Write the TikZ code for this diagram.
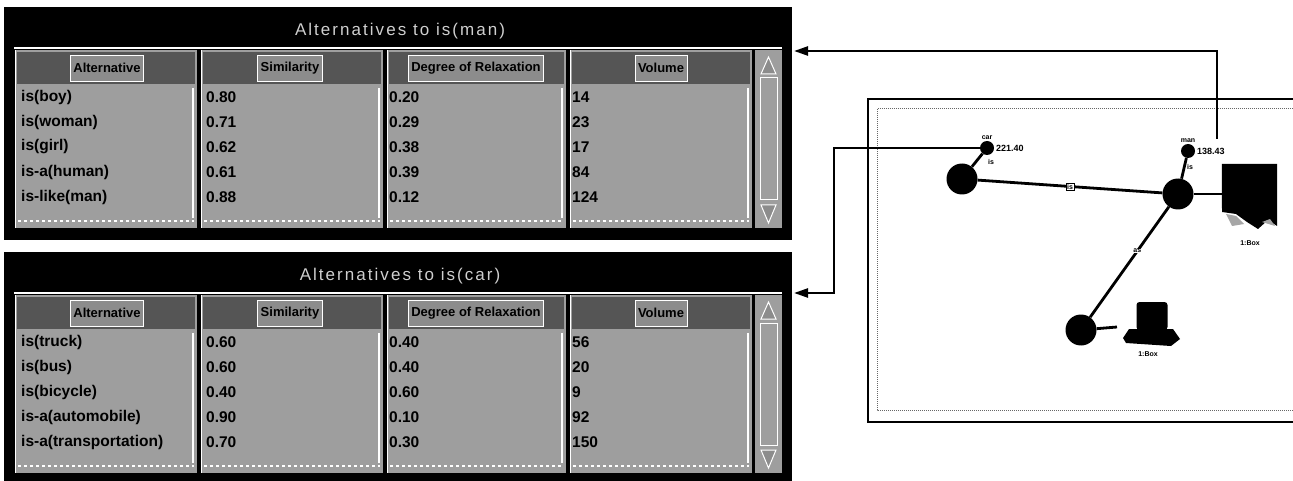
\documentclass[tikz,border=0pt]{standalone}
\usepackage{fontspec}
\setmainfont{Liberation Sans}
\newfontfamily\titlefont[LetterSpace=12]{Liberation Sans}
\usetikzlibrary{arrows.meta,calc}
\definecolor{cellgray}{HTML}{9E9E9E}
\definecolor{headgray}{HTML}{555555}
\definecolor{tabgray}{HTML}{8C8C8C}
\definecolor{titlegray}{HTML}{CFCFCF}
\tikzset{
  winbox/.style={fill=black, draw=none, inner sep=0pt, outer sep=0pt, minimum width=788, minimum height=233},
  titletxt/.style={text=titlegray, font=\titlefont\fontsize{17}{20}\selectfont, inner sep=0pt},
  tabbox/.style={fill=tabgray, draw=white, line width=0.8pt, font=\bfseries\fontsize{13}{15}\selectfont, text=black, inner xsep=3pt, inner ysep=3pt, minimum height=26},
  celltxt/.style={anchor=west, font=\bfseries\fontsize{15.5}{17}\selectfont, text=black, inner sep=0pt},
  conn/.style={line width=2.4pt, -{Triangle[length=14pt,width=9pt]}},
  edge/.style={line width=2.8pt},
  bigdot/.style={circle, fill=black, minimum size=31, inner sep=0pt},
  smalldot/.style={circle, fill=black, minimum size=14, inner sep=0pt},
  tinytxt/.style={font=\bfseries\fontsize{7}{8}\selectfont, inner sep=1pt},
  valtxt/.style={font=\bfseries\fontsize{9}{10}\selectfont, inner sep=1pt, anchor=west},
}
\newcommand\altwin[4]{%
  \begin{scope}[shift={(0,#1)}]
    \node[winbox] (#2win) at (398,123.5) {};
    \node[titletxt] (#2title) at (400,31) {#3};
    \draw[white, line width=1.5pt] (14,48) -- (782,48);
    \foreach \xl/\xr/\lab/\tx [count=\k] in {15/197/Alternative/107, 201/383/Similarity/290, 387/566/Degree of Relaxation/476, 570/752/Volume/661} {
      \fill[cellgray] (\xl,50) rectangle (\xr,228);
      \fill[headgray] (\xl+2,52) rectangle (\xr-2,84);
      \node[tabbox] (#2h\k) at (\tx,68) {\lab};
      \draw[white, line width=1.2pt] (\xr-4,88) -- (\xr-4,218);
      \draw[white, line width=2pt, dash pattern=on 3pt off 3pt] (\xl+3,221) -- (\xr-3,221);
      \draw[white, line width=1pt] (\xl,50) -- (\xl,228);
    }
    \foreach \a/\b/\c/\d [count=\i] in {#4} {
      \pgfmathsetmacro\yy{72+25*\i}
      \node[celltxt] (#2a\i) at (21,\yy) {\a};
      \node[celltxt] (#2b\i) at (206,\yy) {\b};
      \node[celltxt] (#2c\i) at (389,\yy) {\c};
      \node[celltxt] (#2d\i) at (572,\yy) {\d};
    }
    % scrollbar
    \fill[cellgray] (755,50) rectangle (782,228);
    \draw[white, line width=1pt] (760,78) rectangle (777,200);
    \draw[white, line width=1pt, fill=black!45] (768.5,57) -- (776,74) -- (761,74) -- cycle;
    \draw[white, line width=1pt, fill=black!45] (761,205) -- (776,205) -- (768.5,223) -- cycle;
  \end{scope}
}
\begin{document}
\begin{tikzpicture}[x=1pt,y=-1pt]
\useasboundingbox (0,0) rectangle (1293,481);
\fill[white] (0,0) rectangle (1293,481);

\altwin{0}{top}{Alternatives to is(man)}{is(boy)/0.80/0.20/14, is(woman)/0.71/0.29/23, is(girl)/0.62/0.38/17, is-a(human)/0.61/0.39/84, is-like(man)/0.88/0.12/124}
\altwin{245}{bot}{Alternatives to is(car)}{is(truck)/0.60/0.40/56, is(bus)/0.60/0.40/20, is(bicycle)/0.40/0.60/9, is-a(automobile)/0.90/0.10/92, is-a(transportation)/0.70/0.30/150}

% right panel
\draw[line width=2pt] (868,99) rectangle (1300,422);
\draw[black!60, densely dotted, line width=1pt] (877,109) rectangle (1300,410);

\node[smalldot] (carsmall) at (987,148) {};
\node[tinytxt, anchor=south] (carname) at (carsmall.north) {car};
\node[valtxt] (carval) at (995,148) {221.40};
\node[bigdot] (carbig) at (962,179) {};
\draw[edge] (carsmall) -- (carbig);
\node[tinytxt] (carrel) at (991,162) {is};

\node[smalldot] (mansmall) at (1188,151) {};
\node[tinytxt, anchor=south] (manname) at (mansmall.north) {man};
\node[valtxt] (manval) at (1196,151) {138.43};
\node[bigdot] (manbig) at (1178,194) {};
\draw[edge] (mansmall) -- (manbig);
\node[tinytxt] (manrel) at (1190,167) {is};

\draw[edge] (carbig) -- node[tinytxt, fill=white, draw=black, line width=0.6pt, inner sep=1pt] (e1) {is} (manbig);

\node[bigdot] (low) at (1081,330) {};
\draw[edge] (manbig) -- node[tinytxt, pos=0.4, fill=white, inner sep=0.5pt] (e2) {as} (low);

% book icon
\node[inner sep=0pt, minimum width=55, minimum height=64] (book) at (1249.5,196) {};
\fill[black] (book.north west) -- (book.north east) -- (1277,226) -- (1268,220) -- (1258,229) -- (1247,222) -- (1236,214) -- (1222,212) -- cycle;
\fill[black!35] (1226,214) -- (1236,216) -- (1244,224) -- (1232,226) -- cycle;
\fill[black!35] (1262,222) -- (1270,219) -- (1275,226) -- cycle;
\draw[edge] (manbig) -- (manbig -| book.west);
\node[tinytxt] (booklbl) at (1250,243) {1:Box};

% computer icon
\node[fill=black, rounded corners=3pt, minimum width=31, minimum height=28, inner sep=0pt] (pc) at (1152,316) {};
\fill[black] (1129,329) -- (1173,329) -- (1180,339) -- (1171,346) -- (1126,343) -- (1123,338) -- cycle;
\coordinate (pcport) at (1117,327);
\draw[edge] (low) -- (pcport);
\node[tinytxt] (pclbl) at (1148,354) {1:Box};

% connectors
\coordinate (mantap) at (1217,139);
\coordinate (topin) at (794,51);
\draw[conn] (mantap) |- (topin);
\coordinate (cbend) at (834,148);
\coordinate (botin) at (794,293);
\draw[conn] (carsmall.west) -- (cbend) |- (botin);
\end{tikzpicture}
\end{document}
